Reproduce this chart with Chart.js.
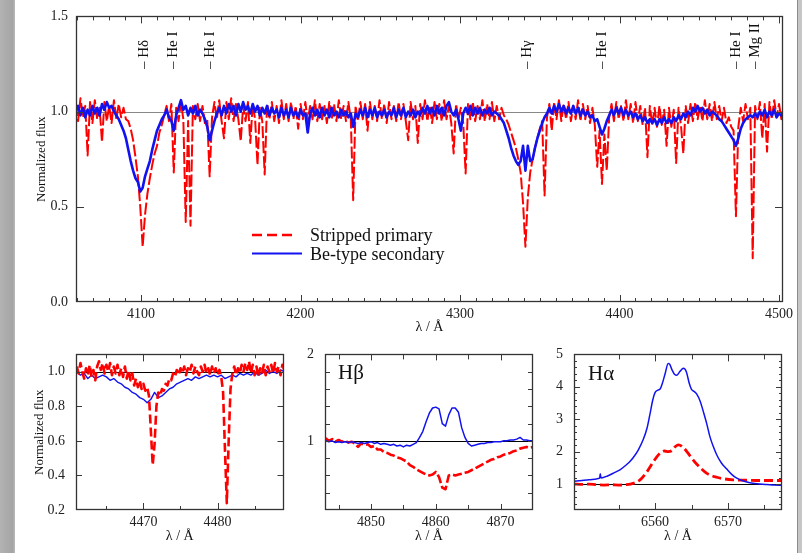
<!DOCTYPE html>
<html><head><meta charset="utf-8">
<script src="https://cdn.jsdelivr.net/npm/chart.js@4.4.1/dist/chart.umd.min.js"></script>
<style>
html,body{margin:0;padding:0;background:#fff;}
body{width:802px;height:553px;position:relative;overflow:hidden;}
canvas{position:absolute;}
#stripL{position:absolute;left:0;top:0;width:15px;height:553px;background:linear-gradient(to right,#b3b3b3,#a4a4a4 85%,#bcbcbc);z-index:5}
#stripR{position:absolute;left:797px;top:0;width:5px;height:553px;background:linear-gradient(to right,#8c8c8c 0,#8c8c8c 1px,#c6c6c6 1px);z-index:5}
</style></head>
<body>
<div id="stripL"></div><div id="stripR"></div>
<canvas id="cTop" width="802" height="335" style="left:0;top:0;width:802px;height:335px"></canvas>
<canvas id="cHe" width="290" height="218" style="left:0;top:335px;width:290px;height:218px"></canvas>
<canvas id="cHb" width="250" height="218" style="left:290px;top:335px;width:250px;height:218px"></canvas>
<canvas id="cHa" width="262" height="218" style="left:540px;top:335px;width:262px;height:218px"></canvas>
<script>
// ---------------- DATA ----------------
// Top panel: regular wavelength grid (Å) and normalized flux values
const topStart = 4059, topStep = 1.5;
const primaryTop = [
1.04,0.95,1.07,0.97,1.03,0.77,1.05,0.94,1.06,0.96,
1.02,0.84,1.05,0.95,1.03,0.94,1.06,0.96,1.04,0.97,
1.02,0.96,0.95,0.91,0.85,0.76,0.66,0.50,0.29,0.46,
0.57,0.65,0.72,0.78,0.82,0.89,0.93,0.98,1.03,0.95,
1.04,0.68,1.02,0.95,1.05,0.96,0.42,0.95,0.40,1.03,
0.96,1.04,0.95,1.03,0.94,0.96,0.66,0.97,1.05,0.96,
1.06,0.95,0.86,1.05,0.96,1.07,0.95,1.04,0.96,0.845,
1.03,0.95,1.05,0.835,1.04,0.96,0.72,1.02,0.95,0.67,
1.04,0.96,1.05,0.95,1.03,0.94,1.06,0.96,1.04,0.95,
1.05,0.96,1.03,0.91,1.04,0.96,1.05,0.95,1.03,0.96,
1.06,0.95,1.04,0.96,1.03,0.94,1.05,0.96,1.04,0.95,
1.06,0.96,1.03,0.95,1.05,0.96,0.535,1.03,0.95,1.05,
0.96,1.04,0.90,1.05,0.96,1.03,0.95,1.06,0.96,1.04,
0.94,1.05,0.96,1.03,0.95,1.05,0.96,1.04,0.95,0.85,
1.05,0.96,1.03,0.835,1.04,0.96,1.06,0.95,1.03,0.94,
1.05,0.96,1.04,0.95,1.06,0.96,1.03,0.94,0.78,1.04,
0.96,1.02,0.94,0.675,1.04,0.96,1.05,0.95,1.03,0.96,
1.06,0.95,1.04,0.96,1.05,0.95,1.03,0.96,1.02,0.98,
0.96,0.93,0.89,0.85,0.81,0.75,0.68,0.52,0.29,0.55,
0.68,0.75,0.81,0.86,0.91,0.95,0.56,0.97,1.04,0.90,
1.05,0.96,1.06,0.95,1.04,0.96,1.05,0.95,1.03,0.96,
1.06,0.95,1.04,0.96,1.03,0.94,1.02,0.93,0.71,0.90,
0.62,0.88,0.69,0.97,1.04,0.95,1.05,0.96,1.03,0.95,
1.06,0.96,1.04,0.94,1.05,0.95,1.03,0.93,1.02,0.76,
1.03,0.93,1.02,0.92,1.03,0.93,1.01,0.82,1.02,0.92,
1.01,0.73,1.02,0.93,0.78,1.03,0.94,1.04,0.95,1.05,
0.96,1.03,0.95,1.06,0.96,1.04,0.95,1.05,0.96,1.03,
0.95,1.02,0.94,0.97,0.92,0.90,0.45,0.92,1.02,0.95,
1.04,0.96,1.02,0.23,1.03,0.96,1.05,0.86,1.04,0.79,
1.05,0.96,1.06,0.97,1.04,0.96,1.05];
const secondaryTop = [
1.00,1.03,0.98,1.02,0.97,1.01,0.98,1.03,0.99,1.02,
0.98,1.04,1.01,1.05,1.02,1.03,1.00,0.98,0.96,0.93,
0.90,0.86,0.80,0.74,0.69,0.65,0.63,0.58,0.60,0.66,
0.70,0.74,0.80,0.85,0.90,0.93,0.96,0.98,1.01,0.97,
0.95,0.90,0.98,1.02,1.06,1.01,1.03,0.98,1.02,0.99,
1.03,0.98,1.01,0.99,0.96,0.92,0.85,0.90,0.95,0.99,
1.02,0.98,1.03,0.99,1.04,1.00,1.03,0.98,1.04,1.00,
1.05,1.01,1.03,0.99,1.04,1.00,1.03,0.98,1.02,0.99,
1.03,0.98,1.02,0.99,1.01,0.97,1.02,0.98,1.01,0.97,
1.02,0.98,1.00,0.97,1.01,0.98,0.99,0.89,0.99,1.02,
0.98,1.01,0.97,1.02,0.98,1.01,0.97,1.02,0.98,1.00,
0.97,1.01,0.98,1.00,0.97,0.99,0.92,0.99,0.97,1.01,
0.98,1.02,0.97,1.01,0.98,1.02,0.97,1.00,0.98,1.01,
0.97,1.00,0.98,1.02,0.97,1.01,0.98,1.02,0.97,1.00,
0.98,1.01,0.97,1.00,0.98,1.02,0.99,1.03,0.99,1.02,
0.98,1.03,0.99,1.02,0.98,1.03,1.05,1.00,0.98,1.01,
0.96,0.90,0.99,1.02,0.99,1.03,0.98,1.02,0.99,1.02,
0.98,1.01,0.99,1.02,0.98,1.00,0.99,0.98,0.96,0.94,
0.90,0.86,0.81,0.77,0.74,0.72,0.74,0.82,0.69,0.82,
0.74,0.75,0.81,0.86,0.90,0.94,0.97,0.99,1.02,0.99,
1.03,1.00,1.04,1.00,1.03,0.99,1.02,0.99,1.03,0.99,
1.02,0.98,1.01,0.98,1.00,0.97,0.98,0.95,0.96,0.92,
0.88,0.91,0.95,0.98,1.01,0.98,1.02,0.99,1.02,0.98,
1.01,0.98,1.00,0.97,0.99,0.96,0.98,0.95,0.97,0.94,
0.96,0.94,0.96,0.93,0.96,0.94,0.97,0.94,0.96,0.94,
0.97,0.95,0.98,0.96,0.99,0.97,1.00,0.98,1.02,1.00,
1.03,1.00,1.02,0.99,1.01,0.98,1.00,0.99,0.98,0.96,
0.95,0.93,0.91,0.89,0.87,0.85,0.82,0.86,0.91,0.94,
0.96,0.97,0.98,0.97,0.99,0.97,1.00,0.98,1.01,0.97,
1.00,0.98,1.01,0.97,0.99,0.98,1.00];
const lineWaves = [4102, 4120, 4143.5, 4342, 4389, 4473, 4485];
const lineNames = ['– Hδ', '– He I', '– He I', '– Hγ', '– He I', '– He I', '– Mg II'];

// He I 4471 / Mg II 4481 panel
const heStartPrimary = 4461, heStepPrimary = 0.25;
const primaryHe = [
1.03,0.99,1.05,1.00,0.96,1.02,0.98,1.04,0.97,1.01,
0.95,1.03,1.06,1.01,1.05,0.99,1.04,1.00,1.05,0.98,
1.03,0.99,1.04,0.98,1.02,0.97,1.03,0.96,1.01,0.95,
0.99,0.92,0.96,0.91,0.95,0.90,0.93,0.89,0.91,0.86,
0.66,0.46,0.58,0.80,0.88,0.86,0.90,0.89,0.93,0.92,
0.96,0.95,0.99,0.97,1.01,0.98,1.02,0.99,1.03,0.98,
1.02,1.00,1.04,0.99,1.03,1.00,0.98,1.03,1.00,1.04,
0.99,1.02,0.98,1.03,0.99,1.02,0.98,1.01,0.97,0.88,
0.55,0.24,0.60,0.90,0.99,1.03,0.98,1.02,0.99,1.04,
1.00,1.05,1.01,1.06,0.99,1.04,0.98,1.03,0.97,1.02,
0.99,1.04,0.98,1.03,1.00,1.04,0.99,1.05,1.00,1.03,
0.98,1.04,1.01];
const heStartSecondary = 4461, heStepSecondary = 0.5;
const secondaryHe = [
1.00,0.98,0.99,0.96,0.98,0.96,0.97,0.98,0.97,0.95,
0.96,0.94,0.93,0.91,0.90,0.88,0.87,0.85,0.84,0.82,
0.84,0.88,0.85,0.86,0.88,0.90,0.91,0.93,0.94,0.95,
0.96,0.95,0.97,0.96,0.97,0.98,0.97,0.98,0.97,0.98,
0.96,0.97,0.98,0.97,0.99,0.98,0.99,0.98,1.00,0.98,
0.99,1.01,0.99,1.00,0.99,1.01,1.00];

// Hβ panel
const hbStart = 4843, hbStep = 0.5;
const primaryHb = [
1.03,1.00,1.02,0.99,1.01,0.99,1.00,0.98,0.99,0.97,
0.93,0.97,0.95,0.96,0.93,0.94,0.90,0.90,0.87,0.86,
0.84,0.83,0.81,0.80,0.78,0.76,0.72,0.70,0.67,0.65,
0.63,0.61,0.60,0.61,0.64,0.58,0.46,0.44,0.60,0.61,
0.60,0.61,0.62,0.63,0.64,0.66,0.68,0.70,0.72,0.74,
0.76,0.78,0.79,0.81,0.82,0.84,0.85,0.86,0.88,0.89,
0.91,0.92,0.93,0.92,0.93];
const secondaryHb = [
1.00,0.99,1.00,0.98,0.99,0.98,0.99,0.98,0.99,0.98,
0.97,0.98,0.97,0.98,0.99,0.97,0.98,0.96,0.97,0.96,
0.95,0.96,0.94,0.95,0.93,0.95,0.94,0.96,0.98,1.04,
1.11,1.22,1.32,1.38,1.39,1.37,1.20,1.17,1.30,1.38,
1.38,1.33,1.15,1.04,0.97,0.94,0.95,0.96,0.97,0.97,
0.98,0.98,0.99,0.99,0.99,1.00,1.00,1.01,1.01,1.02,
1.04,1.01,1.01,1.00,1.00];

// Hα panel
const haWaveSecondary = [6548.9,6550.0,6551.0,6552.0,6552.4,6552.5,6552.6,6553.5,6554.5,6555.2,
6556.0,6556.5,6557.0,6557.7,6558.4,6558.9,6559.3,6559.7,6560.0,6560.4,
6560.7,6561.0,6561.4,6561.8,6562.0,6562.3,6562.7,6563.0,6563.4,6563.9,
6564.3,6564.7,6565.0,6565.4,6565.7,6566.2,6566.6,6567.1,6567.5,6568.0,
6568.5,6569.1,6569.8,6570.5,6571.2,6572.0,6573.0,6574.0,6575.3,6576.3,6577.4];
const haSecondary = [1.09,1.11,1.13,1.16,1.18,1.32,1.19,1.25,1.36,1.44,
1.58,1.68,1.81,2.05,2.38,2.72,3.15,3.60,3.82,3.90,
3.93,4.10,4.42,4.72,4.70,4.54,4.38,4.36,4.47,4.57,
4.46,4.10,3.92,3.85,3.78,3.55,3.25,2.85,2.48,2.15,
1.88,1.65,1.47,1.30,1.18,1.10,1.04,1.01,0.99,0.97,0.96];
const haWavePrimary = [6548.9,6550.0,6551.0,6552.0,6553.0,6554.0,6555.0,6556.0,6557.0,6557.95,
6558.86,6559.77,6560.68,6561.3,6561.8,6562.3,6562.8,6563.2,6563.9,6564.5,
6565.0,6565.9,6567.1,6568.45,6569.5,6570.7,6572.6,6574.4,6577.4];
const haPrimary = [1.00,0.99,1.00,0.98,0.97,0.98,0.97,0.98,1.02,1.13,
1.37,1.69,1.95,2.02,2.00,2.03,2.16,2.21,2.12,1.96,
1.81,1.57,1.33,1.21,1.16,1.13,1.12,1.11,1.11];

// tick labels
const topXTicks = [4100, 4200, 4300, 4400, 4500];
const topYTicks = [0, 0.5, 1.0, 1.5];
const heXTicks = [4470, 4480];
const heYTicks = [0.2, 0.4, 0.6, 0.8, 1.0];
const hbXTicks = [4850, 4860, 4870];
const hbYTicks = [1, 2];
const haXTicks = [6560, 6570];
const haYTicks = [1, 2, 3, 4, 5];

// ---------------- DRAWING ----------------
const SERIF = "'Liberation Serif','Times New Roman',serif";
const RED = 'rgb(255,0,0)', BLUE = 'rgb(18,18,240)';
function grid(start, step, vals) { return vals.map((v, i) => ({x: +(start + i * step).toFixed(3), y: v})); }
function pairs(xs, ys) { return xs.map((x, i) => ({x: x, y: ys[i]})); }
function range(a, b, s) { const r = []; for (let v = a; v <= b + 1e-9; v += s) r.push(+v.toFixed(4)); return r; }

function decoPlugin(d) {
  return {
    id: 'deco',
    beforeDatasetsDraw(chart) {
      const {ctx, chartArea: a, scales: {y}} = chart;
      const py = Math.round(y.getPixelForValue(d.ref.value)) + 0.5;
      ctx.save(); ctx.strokeStyle = d.ref.color; ctx.lineWidth = 1;
      ctx.beginPath(); ctx.moveTo(a.left, py); ctx.lineTo(a.right, py); ctx.stroke(); ctx.restore();
    },
    afterDatasetsDraw(chart) {
      const {ctx, chartArea: a, scales: {x, y}} = chart;
      ctx.save(); ctx.strokeStyle = '#3a3a3a'; ctx.lineWidth = 1; ctx.beginPath();
      d.xt.forEach(([vals, len]) => vals.forEach(v => {
        const px = Math.round(x.getPixelForValue(v)) + 0.5;
        if (px < a.left + 1 || px > a.right - 1) return;
        ctx.moveTo(px, a.bottom); ctx.lineTo(px, a.bottom - len);
        ctx.moveTo(px, a.top); ctx.lineTo(px, a.top + len);
      }));
      d.yt.forEach(([vals, len]) => vals.forEach(v => {
        const py = Math.round(y.getPixelForValue(v)) + 0.5;
        if (py < a.top + 1 || py > a.bottom - 1) return;
        ctx.moveTo(a.left, py); ctx.lineTo(a.left + len, py);
        ctx.moveTo(a.right, py); ctx.lineTo(a.right - len, py);
      }));
      ctx.stroke();
      ctx.lineWidth = 1.3; ctx.strokeStyle = '#333';
      ctx.strokeRect(Math.round(a.left) + 0.5, Math.round(a.top) + 0.5, Math.round(a.right - a.left) - 1, Math.round(a.bottom - a.top) - 1);
      ctx.restore();
    },
    afterDraw(chart) {
      const {ctx, chartArea: a} = chart;
      ctx.save(); ctx.fillStyle = '#111';
      ctx.font = '14px ' + SERIF; ctx.textAlign = 'center'; ctx.textBaseline = 'middle';
      ctx.fillText('λ / Å', (a.left + a.right) / 2, a.bottom + d.xTitleOff);
      if (d.yTitle) {
        ctx.save(); ctx.translate(a.left - d.yTitleOff, (a.top + a.bottom) / 2); ctx.rotate(-Math.PI / 2);
        ctx.font = '13px ' + SERIF; ctx.fillText('Normalized flux', 0, 0); ctx.restore();
      }
      if (d.extra) d.extra(chart, ctx, a);
      ctx.restore();
    }
  };
}

function makeChart(id, datasets, o) {
  const tickFont = {family: SERIF, size: 14};
  return new Chart(document.getElementById(id), {
    type: 'line',
    data: {datasets: datasets},
    options: {
      responsive: false, animation: false, devicePixelRatio: 1, events: [],
      layout: {padding: {left: 0, bottom: 0, top: o.padTop, right: o.padRight}},
      elements: {point: {radius: 0}, line: {borderJoinStyle: 'round'}},
      plugins: {legend: {display: false}, tooltip: {enabled: false}},
      scales: {
        x: {type: 'linear', min: o.xmin, max: o.xmax,
          grid: {display: false, drawTicks: false}, border: {display: false},
          afterFit: s => { s.height = o.xAxisH; },
          afterBuildTicks: s => { s.ticks = o.xTicks.map(v => ({value: v})); },
          ticks: {font: tickFont, color: '#222', padding: o.xPad, maxRotation: 0, minRotation: 0, autoSkip: false,
            callback: v => String(v)}},
        y: {type: 'linear', min: o.ymin, max: o.ymax,
          grid: {display: false, drawTicks: false}, border: {display: false},
          afterFit: s => { s.width = o.yAxisW; },
          afterBuildTicks: s => { s.ticks = o.yTicks.map(v => ({value: v})); },
          ticks: {font: tickFont, color: '#222', padding: o.yPad, autoSkip: false,
            callback: o.yFmt}}
      }
    },
    plugins: [decoPlugin(o.deco)]
  });
}

// Top panel
makeChart('cTop', [
  {data: grid(topStart, topStep, secondaryTop), borderColor: BLUE, borderWidth: 2.6, tension: 0},
  {data: grid(topStart, topStep, primaryTop), borderColor: RED, borderWidth: 2, borderDash: [12, 3], tension: 0}
], {
  yAxisW: 76, xAxisH: 33, padTop: 11, padRight: 19, xmin: 4059.2, xmax: 4502.5, ymin: 0, ymax: 1.5,
  xTicks: topXTicks, yTicks: topYTicks, xPad: 4, yPad: 8, yFmt: v => v.toFixed(1),
  deco: {ref: {value: 1.0, color: '#888'},
    xt: [[range(4060, 4500, 10), 4], [topXTicks, 7]], yt: [[topYTicks, 8]],
    xTitleOff: 25, yTitle: true, yTitleOff: 34,
    extra: (chart, ctx, a) => {
      const x = chart.scales.x;
      ctx.font = '15px ' + SERIF; ctx.textAlign = 'left'; ctx.textBaseline = 'middle';
      lineWaves.forEach((w, i) => {
        ctx.save(); ctx.translate(x.getPixelForValue(w), 69); ctx.rotate(-Math.PI / 2);
        ctx.fillText(lineNames[i], 0, 0); ctx.restore();
      });
      ctx.save();
      ctx.lineWidth = 2.5; ctx.strokeStyle = RED; ctx.setLineDash([10, 5]);
      ctx.beginPath(); ctx.moveTo(252, 235); ctx.lineTo(297, 235); ctx.stroke();
      ctx.setLineDash([]); ctx.lineWidth = 1.8; ctx.strokeStyle = BLUE;
      ctx.beginPath(); ctx.moveTo(252, 253.5); ctx.lineTo(302, 253.5); ctx.stroke();
      ctx.restore();
      ctx.font = '18px ' + SERIF; ctx.fillStyle = '#111';
      ctx.fillText('Stripped primary', 310, 236);
      ctx.fillText('Be-type secondary', 310, 255);
    }}
});

// He I / Mg II panel
makeChart('cHe', [
  {data: grid(heStartPrimary, heStepPrimary, primaryHe), borderColor: RED, borderWidth: 2.6, borderDash: [9, 4], tension: 0},
  {data: grid(heStartSecondary, heStepSecondary, secondaryHe), borderColor: BLUE, borderWidth: 1.4, tension: 0}
], {
  yAxisW: 76, xAxisH: 43, padTop: 9, padRight: 6.5, xmin: 4460.9, xmax: 4488.9, ymin: 0.2, ymax: 1.1,
  xTicks: heXTicks, yTicks: heYTicks, xPad: 4, yPad: 11, yFmt: v => v.toFixed(1),
  deco: {ref: {value: 1.0, color: '#000'},
    xt: [[[4465, 4475, 4485], 4], [heXTicks, 7]], yt: [[heYTicks, 6]],
    xTitleOff: 26, yTitle: true, yTitleOff: 36}
});

// Hβ panel
makeChart('cHb', [
  {data: grid(hbStart, hbStep, secondaryHb), borderColor: BLUE, borderWidth: 1.5, tension: 0},
  {data: grid(hbStart, hbStep, primaryHb), borderColor: RED, borderWidth: 2.6, borderDash: [9, 3], tension: 0}
], {
  yAxisW: 35, xAxisH: 43, padTop: 10, padRight: 7, xmin: 4842.9, xmax: 4875.0, ymin: 0.2, ymax: 2.0,
  xTicks: hbXTicks, yTicks: hbYTicks, xPad: 4, yPad: 11, yFmt: v => String(v),
  deco: {ref: {value: 1.0, color: '#000'},
    xt: [[[4845, 4855, 4865, 4875], 5], [hbXTicks, 6]], yt: [[range(0.4, 1.8, 0.2), 5], [hbYTicks, 5]],
    xTitleOff: 26, yTitle: false,
    extra: (chart, ctx, a) => {
      ctx.font = '21px ' + SERIF; ctx.textAlign = 'left'; ctx.textBaseline = 'middle'; ctx.fillStyle = '#111';
      ctx.fillText('Hβ', a.left + 13, a.top + 19);
    }}
});

// Hα panel
makeChart('cHa', [
  {data: pairs(haWaveSecondary, haSecondary), borderColor: BLUE, borderWidth: 1.5, cubicInterpolationMode: 'monotone'},
  {data: pairs(haWavePrimary, haPrimary), borderColor: RED, borderWidth: 2.8, borderDash: [9, 4], cubicInterpolationMode: 'monotone'}
], {
  yAxisW: 34, xAxisH: 43, padTop: 9, padRight: 20, xmin: 6548.9, xmax: 6577.4, ymin: 0.2, ymax: 5,
  xTicks: haXTicks, yTicks: haYTicks, xPad: 4, yPad: 11, yFmt: v => String(v),
  deco: {ref: {value: 1.0, color: '#000'},
    xt: [[[6555, 6565, 6575], 5], [haXTicks, 7]], yt: [[range(0.4, 4.8, 0.2), 3], [haYTicks, 6]],
    xTitleOff: 26, yTitle: false,
    extra: (chart, ctx, a) => {
      ctx.font = '21px ' + SERIF; ctx.textAlign = 'left'; ctx.textBaseline = 'middle'; ctx.fillStyle = '#111';
      ctx.fillText('Hα', a.left + 14, a.top + 20);
    }}
});
</script>
</body></html>
